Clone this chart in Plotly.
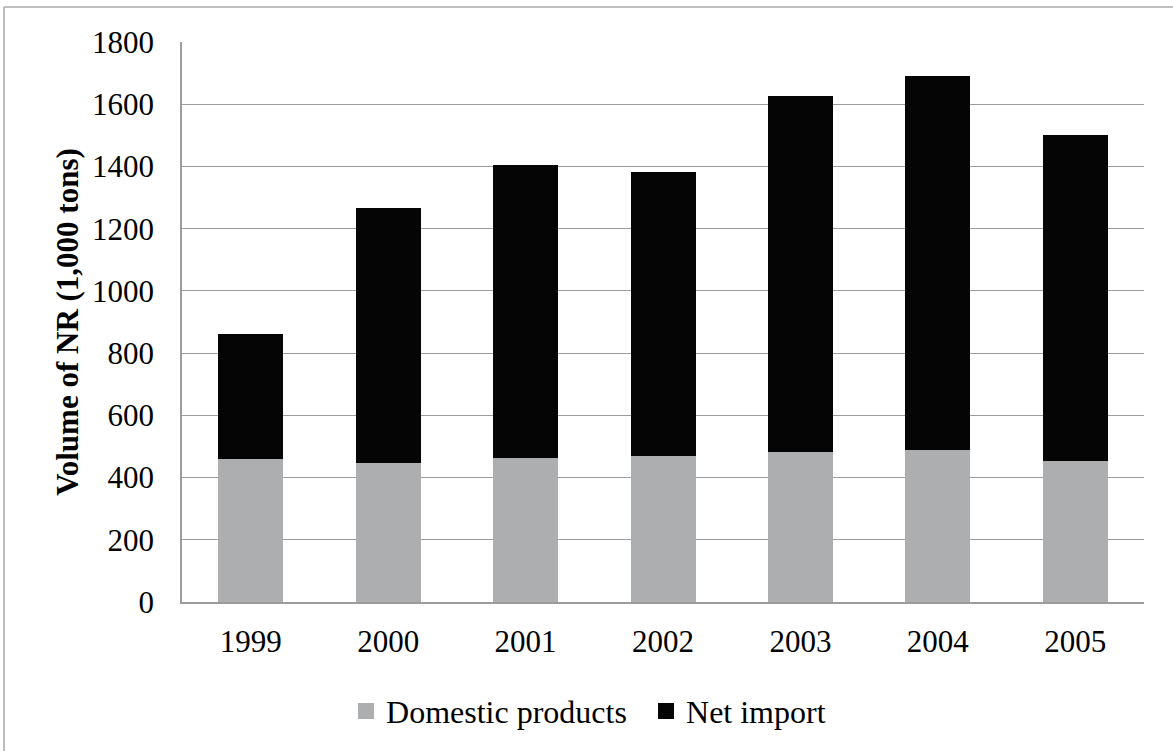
import plotly.graph_objects as go

# Natural rubber supply (1,000 tons)
years = ["1999", "2000", "2001", "2002", "2003", "2004", "2005"]
domestic = [459, 446, 464, 468, 481, 487, 452]
net_import = [403, 819, 942, 914, 1147, 1203, 1050]
y_ticks = [0, 200, 400, 600, 800, 1000, 1200, 1400, 1600, 1800]

GRAY = "#ADAEB0"
BLACK = "#050505"
GRID = "#9C9C9C"
FONT = "Liberation Serif"

fig = go.Figure()
fig.add_trace(go.Bar(x=years, y=domestic, name="Domestic products",
                     marker=dict(color=GRAY, line=dict(width=0)), showlegend=False))
fig.add_trace(go.Bar(x=years, y=net_import, name="Net import",
                     marker=dict(color=BLACK, line=dict(width=0)), showlegend=False))

# legend entries with larger square swatches
for name, col in [("Domestic products", GRAY), ("Net import", BLACK)]:
    fig.add_trace(go.Scatter(x=[None], y=[None], mode="markers", name=name,
                             marker=dict(symbol="square", size=16, color=col)))

fig.update_layout(
    width=1173, height=751,
    barmode="stack", bargap=0.527,
    paper_bgcolor="white", plot_bgcolor="white",
    margin=dict(l=182, r=29, t=42, b=149),
    font=dict(family=FONT, size=31, color="black"),
    showlegend=True,
    legend=dict(orientation="h", x=0.1705, xanchor="left", y=-0.195, yanchor="middle",
                font=dict(family=FONT, size=32), itemsizing="trace", traceorder="normal",
                entrywidth=255, entrywidthmode="pixels",
                bgcolor="rgba(0,0,0,0)"),
    xaxis=dict(type="category", showgrid=False, showline=True, linecolor=GRID,
               linewidth=1.5, ticks="", ticklabelstandoff=11,
               tickfont=dict(family=FONT, size=31)),
    yaxis=dict(range=[0, 1800], tickvals=y_ticks, showgrid=True, gridcolor=GRID,
               gridwidth=1.4, showline=True, linecolor=GRID, linewidth=1.5,
               zeroline=False, ticks="", ticklabelstandoff=20,
               tickfont=dict(family=FONT, size=31),
               title=dict(text="<b>Volume of NR (1,000 tons)</b>", standoff=4,
                          font=dict(family=FONT, size=31))),
    shapes=[
        dict(type="line", xref="paper", yref="paper", x0=-0.185, x1=1.031,
             y0=1.0625, y1=1.0625, line=dict(color="#A8A8A8", width=1.5)),
        dict(type="line", xref="paper", yref="paper", x0=-0.185, x1=-0.185,
             y0=1.0625, y1=-0.27, line=dict(color="#A8A8A8", width=1.5)),
    ],
)

fig.write_html("out.html")
